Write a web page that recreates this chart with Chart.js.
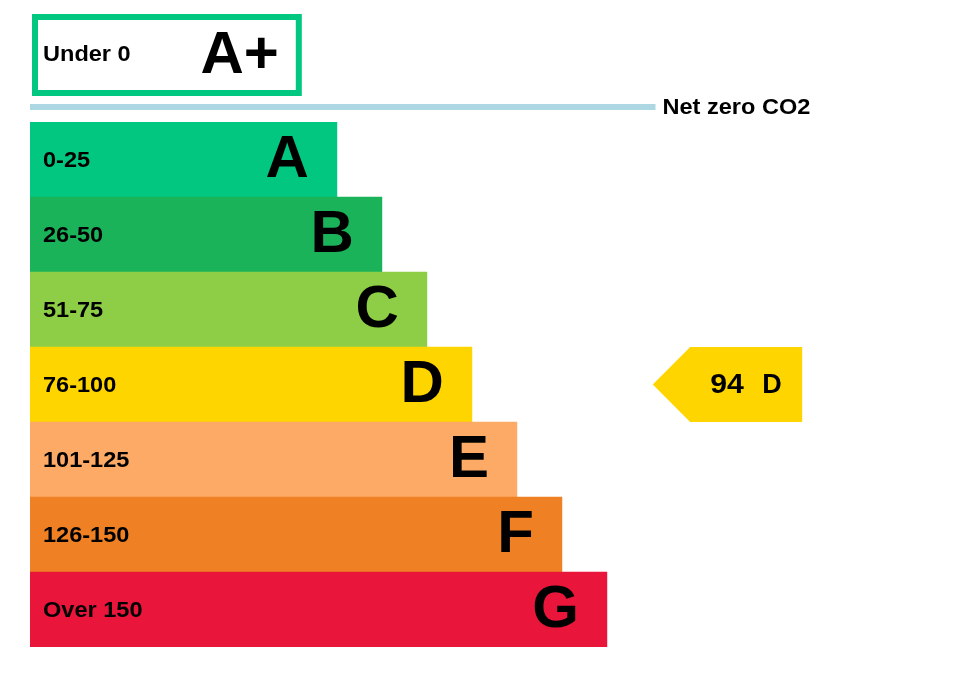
<!DOCTYPE html>
<html>
<head>
<meta charset="utf-8">
<title>Carbon rating</title>
<script src="https://cdn.jsdelivr.net/npm/chart.js@4"></script>
<style>
    body { margin: 0; background: #fff; }
    canvas { display: block; }
</style>
</head>
<body>
<canvas id="ratingChart" width="957" height="682"></canvas>
<script>
// bands, top to bottom
const bands = ['A', 'B', 'C', 'D', 'E', 'F', 'G'];
const bandRanges = ['0-25', '26-50', '51-75', '76-100', '101-125', '126-150', 'Over 150'];
const bandUpper = [25, 50, 75, 100, 125, 150, Infinity];
const bandLengths = [6.82, 7.82, 8.82, 9.82, 10.82, 11.82, 12.82];
const bandColors = ['#02c780', '#1bb35a', '#8dce46', '#ffd500', '#fcaa65', '#ef8023', '#e9153b'];

// the band above net zero
const topBand = 'A+';
const topRange = 'Under 0';
const topLength = 6.04;

const netZeroLabel = 'Net zero CO2';
const currentScore = 94;

const FONT = "'Liberation Sans', Arial, sans-serif";
const SMALL = 'bold 22px ' + FONT;
const BIG = 'bold 60px ' + FONT;

function bandForScore(score) {
    if (score < 0) return topBand;
    for (let i = 0; i < bands.length; i++) {
        if (score <= bandUpper[i]) return bands[i];
    }
    return bands[bands.length - 1];
}

const currentBand = bandForScore(currentScore);

// x positions of the pointer and the net zero line, in scale units
const pointerFrom = 13.84;
const pointerBody = 14.67;
const pointerTo = 17.16;
const netZeroEnd = 13.9;

// the small labels are a touch wider than plain Arial
function wideText(ctx, text, x, y, sx) {
    ctx.save();
    ctx.translate(x, y);
    ctx.scale(sx, 1);
    ctx.fillText(text, 0, 0);
    ctx.restore();
}

const ratingPlugin = {
    id: 'ratingPlugin',
    afterDatasetsDraw(chart) {
        const ctx = chart.ctx;
        const xs = chart.scales.x;
        const ys = chart.scales.y;
        const top = chart.chartArea.top;
        const x0 = xs.getPixelForValue(0);

        ctx.save();
        ctx.fillStyle = '#000';
        ctx.textBaseline = 'middle';

        // labels inside the bars
        chart.getDatasetMeta(0).data.forEach((bar, i) => {
            ctx.font = SMALL;
            ctx.textAlign = 'left';
            wideText(ctx, bandRanges[i], x0 + 13, bar.y + 1, 1.07);
            ctx.font = BIG;
            ctx.textAlign = 'right';
            ctx.fillText(bands[i], bar.x - 28, bar.y + 1);
        });

        // A+ outlined box above net zero
        const boxMid = top - 67;
        const boxRight = xs.getPixelForValue(topLength);
        ctx.strokeStyle = bandColors[0];
        ctx.lineWidth = 6;
        ctx.strokeRect(x0 + 5, boxMid - 38, boxRight - 3 - (x0 + 5), 76);
        ctx.font = SMALL;
        ctx.textAlign = 'left';
        wideText(ctx, topRange, x0 + 13, boxMid, 1.07);
        ctx.font = BIG;
        ctx.textAlign = 'right';
        ctx.fillText(topBand, boxRight - 23, boxMid + 1);

        // net zero line
        const lineY = top - 15;
        const lineEnd = xs.getPixelForValue(netZeroEnd);
        ctx.strokeStyle = '#acd7e3';
        ctx.lineWidth = 6;
        ctx.beginPath();
        ctx.moveTo(x0, lineY);
        ctx.lineTo(lineEnd, lineY);
        ctx.stroke();
        ctx.font = SMALL;
        ctx.textAlign = 'left';
        wideText(ctx, netZeroLabel, lineEnd + 7, lineY + 1, 1.07);

        // current rating pointer
        const bi = bands.indexOf(currentBand);
        const py = ys.getPixelForValue(bi);
        const half = 37.5;
        const pa = xs.getPixelForValue(pointerFrom);
        const pb = xs.getPixelForValue(pointerBody);
        const pc = xs.getPixelForValue(pointerTo);
        ctx.fillStyle = bandColors[bi];
        ctx.beginPath();
        ctx.moveTo(pa, py);
        ctx.lineTo(pb, py - half);
        ctx.lineTo(pc, py - half);
        ctx.lineTo(pc, py + half);
        ctx.lineTo(pb, py + half);
        ctx.closePath();
        ctx.fill();
        ctx.fillStyle = '#000';
        ctx.font = 'bold 27px ' + FONT;
        ctx.textAlign = 'left';
        wideText(ctx, String(currentScore), pb + 20, py + 1, 1.12);
        ctx.fillText(currentBand, pb + 72, py + 1);

        ctx.restore();
    }
};

const ctx = document.getElementById('ratingChart').getContext('2d');
const ratingChart = new Chart(ctx, {
    type: 'bar',
    data: {
        labels: bands,
        datasets: [{
            data: bandLengths,
            backgroundColor: bandColors,
            borderWidth: 0,
            barPercentage: 1,
            categoryPercentage: 1,
        }]
    },
    options: {
        indexAxis: 'y',
        responsive: false,
        animation: false,
        devicePixelRatio: 1,
        layout: { padding: { left: 30, top: 122, bottom: 35, right: 0 } },
        plugins: {
            legend: { display: false },
            tooltip: { enabled: false },
        },
        scales: {
            x: { display: false, min: 0, max: 20.6 },
            y: { display: false },
        }
    },
    plugins: [ratingPlugin]
});
</script>
</body>
</html>
